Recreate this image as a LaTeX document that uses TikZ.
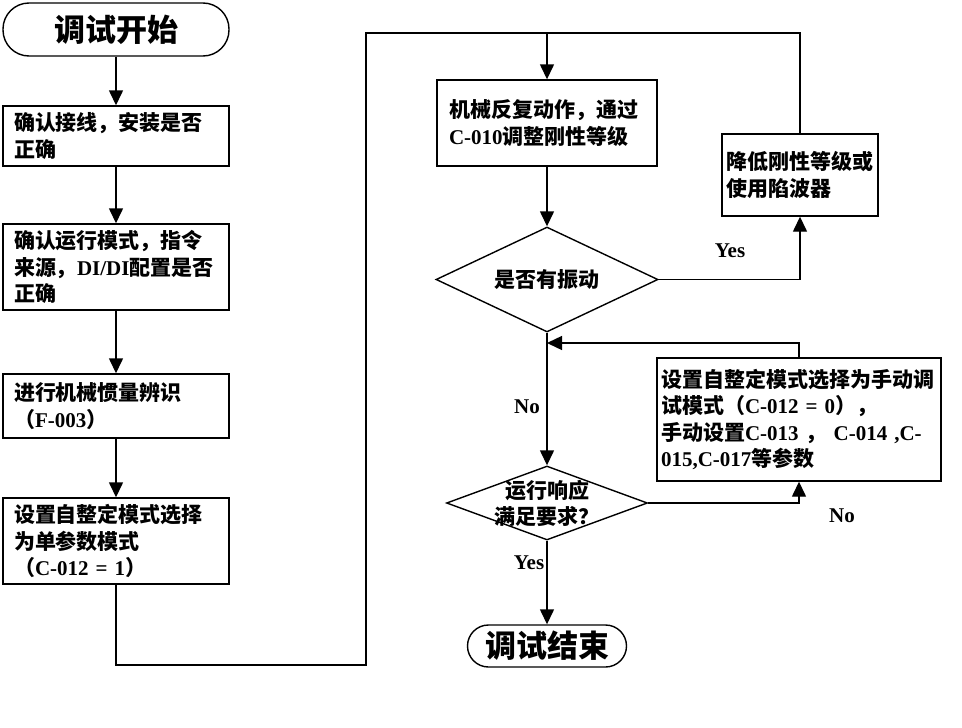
\documentclass[tikz,border=0pt]{standalone}
\usepackage{fontspec}
\setmainfont{Liberation Serif}
\newfontfamily\cjkfont{Noto Sans CJK SC}
\newcommand{\zhtxt}[1]{{\cjkfont #1}}
\usepackage{tikz}
\usetikzlibrary{arrows.meta,positioning,calc,shapes.geometric}

\begin{document}
\begin{tikzpicture}[x=1pt, y=-1pt,
    line width=1.4pt,
    arr/.style={-{Triangle[length=15pt,width=14pt]}},
    terminal/.style={draw, rounded corners=#1, inner sep=0pt, font=\fontsize{31}{36}\selectfont\bfseries},
    stepbox/.style={draw, rectangle, inner sep=0pt, align=left, font=\fontsize{21}{26.5}\selectfont\bfseries},
    decide/.style={draw, diamond, inner sep=0pt},
    lbl/.style={font=\fontsize{21}{26}\selectfont\bfseries}]
    \useasboundingbox (0,0) rectangle (962,728);

    % Left column
    \node[terminal=26pt, minimum width=226pt, minimum height=53pt] (start) at (116,29.5) {\zhtxt{调试开始}};
    \node[stepbox, minimum width=226pt, minimum height=60pt, text width=204pt] (wire) at (116,136)
        {\zhtxt{确认接线，安装是否}\\\zhtxt{正确}};
    \node[stepbox, minimum width=226pt, minimum height=86pt, text width=204pt] (mode) at (116,267)
        {\zhtxt{确认运行模式，指令}\\\zhtxt{来源，}DI/DI\zhtxt{配置是否}\\\zhtxt{正确}};
    \node[stepbox, minimum width=226pt, minimum height=64pt, text width=204pt] (inertia) at (116,406)
        {\zhtxt{进行机械惯量辨识}\\\zhtxt{（}F-003\zhtxt{）}};
    \node[stepbox, minimum width=226pt, minimum height=86pt, text width=204pt] (single) at (116,541)
        {\zhtxt{设置自整定模式选择}\\\zhtxt{为单参数模式}\\\zhtxt{（}C-012 = 1\zhtxt{）}};

    % Right column
    \node[stepbox, minimum width=220pt, minimum height=86pt, text width=196pt] (rigid) at (547,123)
        {\zhtxt{机械反复动作，通过}\\C-010\zhtxt{调整刚性等级}};
    \node[decide, minimum width=222pt, minimum height=105pt] (vib) at (547,279.5) {};
    \node[lbl] at (vib) {\zhtxt{是否有振动}};
    \node[stepbox, minimum width=156pt, minimum height=82pt, text width=148pt] (lower) at (800,175)
        {\zhtxt{降低刚性等级或}\\\zhtxt{使用陷波器}};
    \node[decide, minimum width=201pt, minimum height=74pt] (resp) at (547,503) {};
    \node[lbl, align=center] at (resp) {\zhtxt{运行响应}\\\zhtxt{满足要求？}};
    \node[stepbox, minimum width=284pt, minimum height=123pt, text width=276pt] (manual) at (799,419.5)
        {\zhtxt{设置自整定模式选择为手动调}\\\zhtxt{试模式（}C-012 = 0\zhtxt{），}\\\zhtxt{手动设置}C-013 \zhtxt{，} C-014 ,C-\\015,C-017\zhtxt{等参数}};
    \node[terminal=21pt, minimum width=159pt, minimum height=42pt] (finish) at (547,646) {\zhtxt{调试结束}};

    % Junctions
    \coordinate (low) at (366,665);
    \coordinate (top) at (547,33);
    \coordinate (back) at (547,343);

    % Connectors
    \draw[arr] (start) -- (wire);
    \draw[arr] (wire) -- (mode);
    \draw[arr] (mode) -- (inertia);
    \draw[arr] (inertia) -- (single);
    \draw (single.south) |- (low) |- (top);
    \draw[arr] (top) -- (rigid.north);
    \draw (lower.north) |- (top);
    \draw[arr] (rigid) -- (vib.north);
    \draw[arr] (vib.east) -| (lower.south);
    \draw[arr] (vib.south) -- (resp.north);
    \draw[arr] (manual.north) |- (back);
    \draw[arr] (resp.east) -| (manual.south);
    \draw[arr] (resp.south) -- (finish.north);

    % Branch labels
    \node[lbl] (yes1) at (730,251) {Yes};
    \node[lbl] (no1) at (527,407) {No};
    \node[lbl] (no2) at (842,516) {No};
    \node[lbl] (yes2) at (529,563) {Yes};
\end{tikzpicture}
\end{document}
